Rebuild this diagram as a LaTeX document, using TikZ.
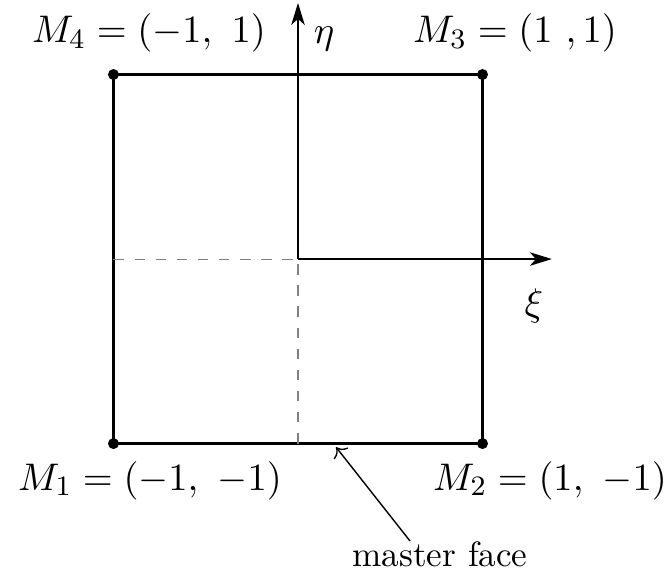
\documentclass[tikz,border=0pt]{standalone}
\usepackage{amsmath}
\usepackage{amssymb}
\usepackage{tikz}
\usetikzlibrary{arrows.meta}

\begin{document}
\begin{tikzpicture}[
  x=1.845cm, y=1.845cm,
  face/.style = {line width=0.75pt},
  axis/.style = {-{Stealth[length=2.2mm,width=1.35mm,inset=0.6mm]}, line width=0.45pt},
  hidden/.style = {dashed, gray, line width=0.3pt},
  corner/.style = {circle, fill, inner sep=0pt, minimum size=1.1mm},
  lbl/.style = {anchor=base, font=\fontsize{11.2}{13}\selectfont},
  note/.style = {->, thin, font=\fontsize{10}{12}\selectfont}
]
  \useasboundingbox (-1.615,-1.707) rectangle (2.027,1.404);

  % Corners
  \node[corner] (M1) at (-1,-1) {};
  \node[corner] (M2) at ( 1,-1) {};
  \node[corner] (M3) at ( 1, 1) {};
  \node[corner] (M4) at (-1, 1) {};
  \coordinate (O) at (0,0);
  \coordinate (W) at (-1,0);
  \coordinate (S) at (0,-1);

  % Face
  \draw[face] (M1.center) -- (M2.center) -- (M3.center) -- (M4.center) -- cycle;

  % Hidden half axes
  \draw[hidden] (W) -- (O);
  \draw[hidden] (S) -- (O);

  % Local axes
  \coordinate (xiend)  at (1.376,0);
  \coordinate (etaend) at (0,1.388);
  \draw[axis] (O) -- (xiend);
  \draw[axis] (O) -- (etaend);
  \node[lbl, anchor=center] (xi)  at (1.279,-0.252) {$\xi$};
  \node[lbl, anchor=center] (eta) at (0.141, 1.195) {$\eta$};

  % Corner labels
  \node[lbl] (l4) at (-0.808, 1.171) {$M_4 = (-1,\ 1)$};
  \node[lbl] (l3) at ( 1.176, 1.171) {$M_3 = (1\ ,1)$};
  \node[lbl] (l1) at (-0.802,-1.252) {$M_1 = (-1,\ -1)$};
  \node[lbl] (l2) at ( 1.366,-1.252) {$M_2 = (1,\ -1)$};

  % Master face pointer
  \coordinate (tip)    at (0.206,-1.019);
  \coordinate (mftail) at (0.607,-1.528);
  \node[note, anchor=base] (mf) at (0.770,-1.664) {master face};
  \draw[note] (mftail) -- (tip);

\end{tikzpicture}
\end{document}
